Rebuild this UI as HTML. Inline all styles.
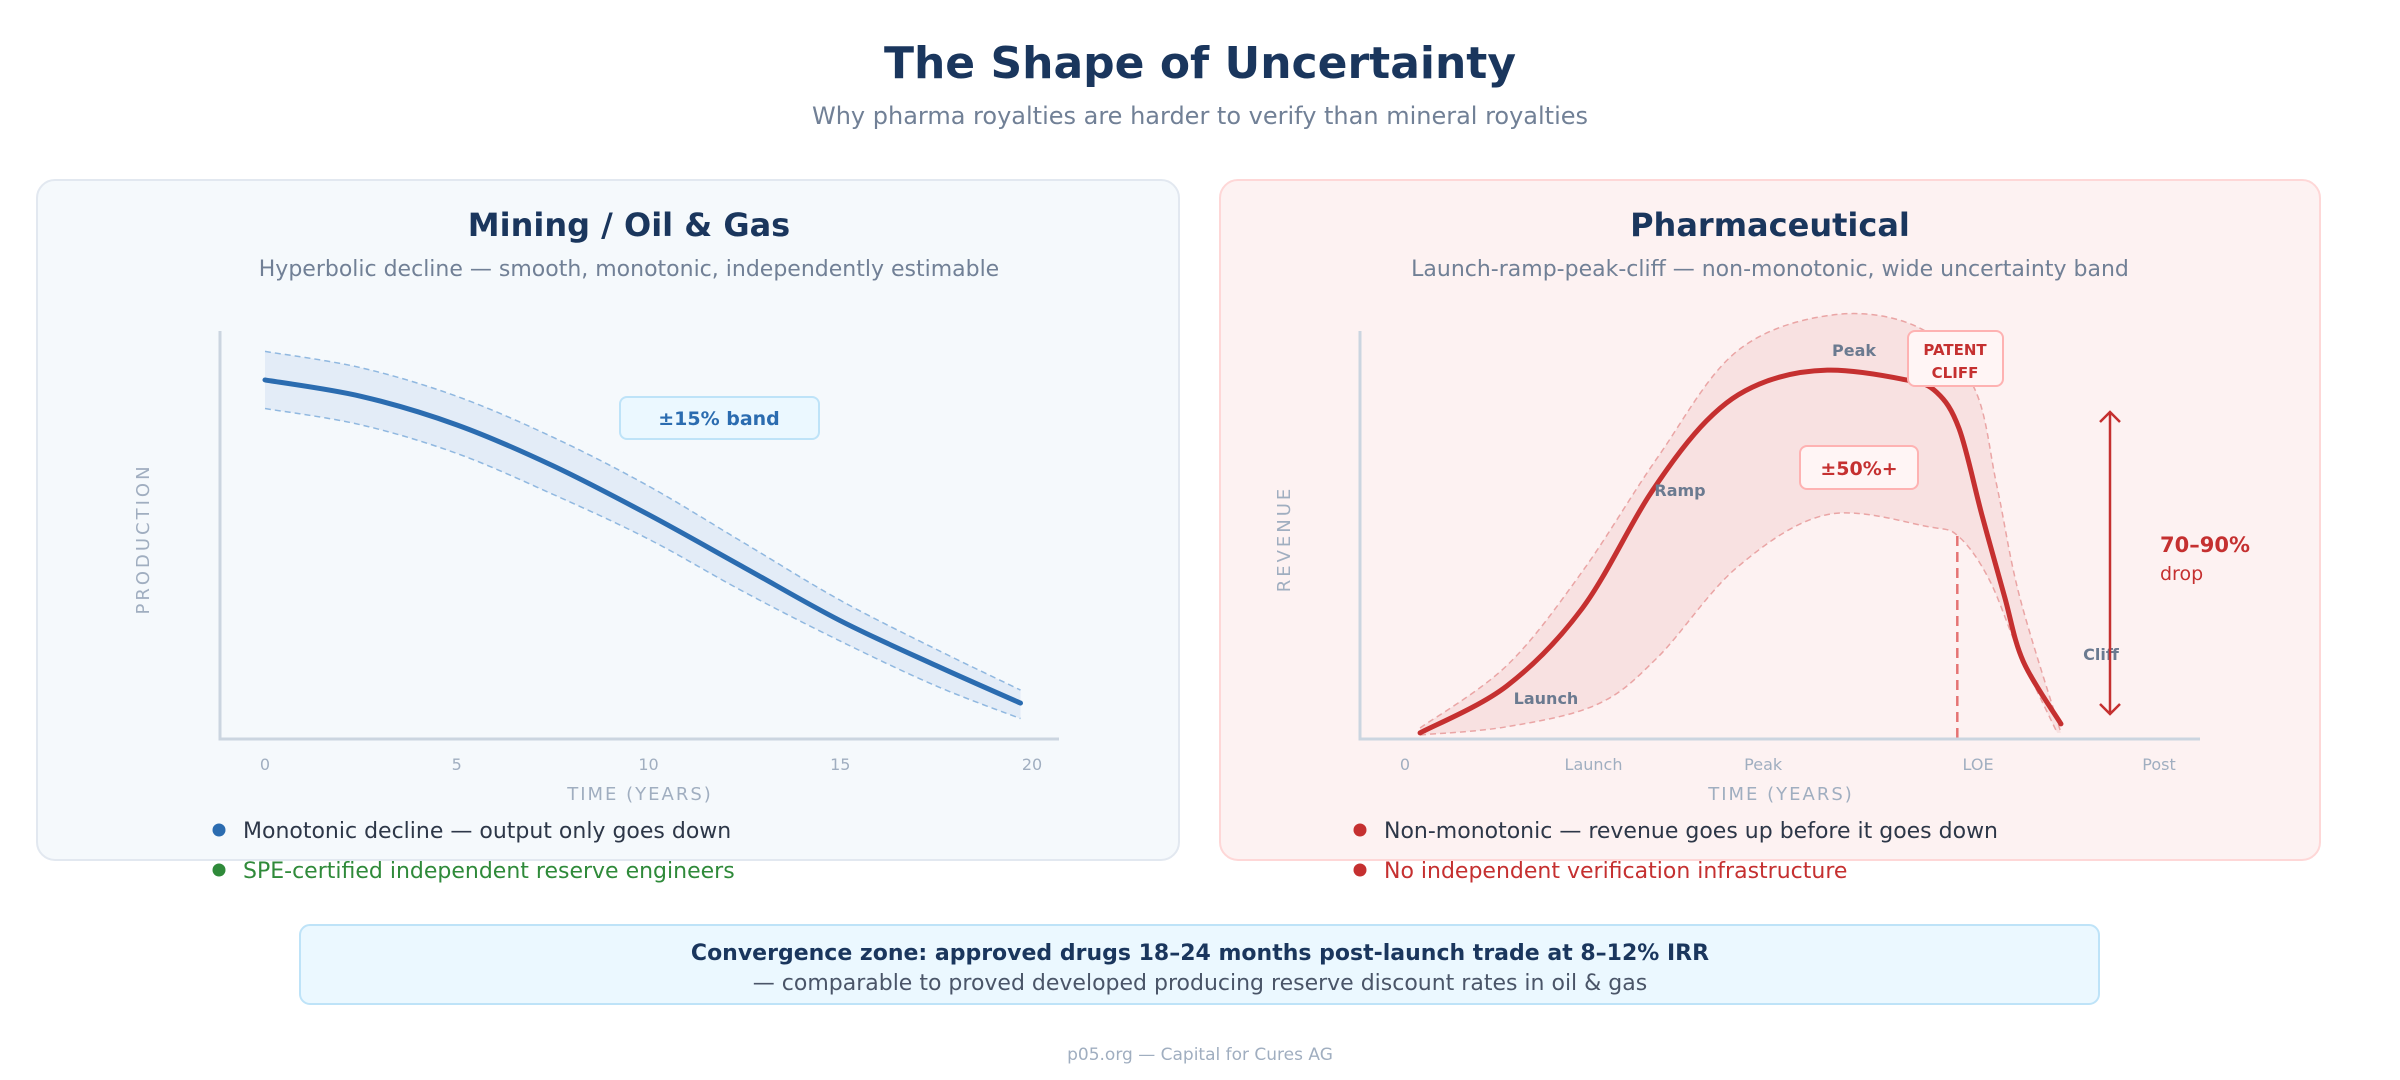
<!DOCTYPE html>
<html><head><meta charset="utf-8"><style>
html,body{margin:0;padding:0;background:#fff;}
svg{display:block;font-family:"DejaVu Sans","Liberation Sans",sans-serif;}
</style></head><body>
<svg id="chart" width="2400" height="1080" viewBox="0 0 2400 1080">
<text x="1200" y="78" text-anchor="middle" font-size="44" font-weight="bold" fill="#1a365d">The Shape of Uncertainty</text>
<text x="1200" y="124" text-anchor="middle" font-size="24" fill="#718096">Why pharma royalties are harder to verify than mineral royalties</text>

<rect x="37" y="180" width="1142" height="680" rx="18" fill="#f5f9fc" stroke="#e2e8f0" stroke-width="2"/>
<rect x="1220" y="180" width="1100" height="680" rx="18" fill="#fdf2f2" stroke="#fed7d7" stroke-width="2"/>

<text x="629" y="236" text-anchor="middle" font-size="32" font-weight="bold" fill="#1a365d">Mining / Oil &amp; Gas</text>
<text x="629" y="276" text-anchor="middle" font-size="22" fill="#718096">Hyperbolic decline — smooth, monotonic, independently estimable</text>
<text x="1770" y="236" text-anchor="middle" font-size="32" font-weight="bold" fill="#1a365d">Pharmaceutical</text>
<text x="1770" y="276" text-anchor="middle" font-size="22" fill="#718096">Launch-ramp-peak-cliff — non-monotonic, wide uncertainty band</text>

<g id="left"></g>
<g id="right"></g>

<circle cx="219" cy="830" r="6.5" fill="#2b6cb0"/>
<text x="243" y="838" font-size="22" fill="#2d3748">Monotonic decline — output only goes down</text>
<circle cx="219" cy="870" r="6.5" fill="#2f8a3a"/>
<text x="243" y="878" font-size="22" fill="#2f8a3a">SPE-certified independent reserve engineers</text>
<circle cx="1360" cy="830" r="6.5" fill="#c53030"/>
<text x="1384" y="838" font-size="22" fill="#2d3748">Non-monotonic — revenue goes up before it goes down</text>
<circle cx="1360" cy="870" r="6.5" fill="#c53030"/>
<text x="1384" y="878" font-size="22" fill="#c53030">No independent verification infrastructure</text>

<rect x="300" y="925" width="1799" height="79" rx="10" fill="#ebf8ff" stroke="#bee3f8" stroke-width="2"/>
<text x="1200" y="960" text-anchor="middle" font-size="22" font-weight="bold" fill="#1a365d">Convergence zone: approved drugs 18–24 months post-launch trade at 8–12% IRR</text>
<text x="1200" y="990" text-anchor="middle" font-size="22" fill="#4a5568">— comparable to proved developed producing reserve discount rates in oil &amp; gas</text>
<text x="1200" y="1060" text-anchor="middle" font-size="17" fill="#a0aec0">p05.org — Capital for Cures AG</text>
</svg>
<script>
// Left chart data
const mineYears = [0, 2.5, 5, 7.5, 10, 12.5, 15, 17.5, 19.7];
const mineProd = [88, 84, 77, 67, 55, 42, 29, 18, 8.8];
const mineUpper = [95, 91, 84, 74, 62, 48, 34, 22, 12];
const mineLower = [81, 77, 70, 60, 49, 36, 24, 13, 5];
const mineTicks = [0, 5, 10, 15, 20];
const mineTickLabels = ['0', '5', '10', '15', '20'];
// Right chart data
const pharmaT = [0.4, 2.7, 4.7, 6.5, 8.0, 9.4, 11.2, 13.3, 14.1, 14.7, 15.3, 15.9, 16.4, 17.4];
const pharmaRev = [1.5, 13, 32, 60, 78, 87, 90.4, 88, 85, 76, 55, 35, 19, 3.7];
const upperT = [0.4, 2.7, 4.7, 6.7, 8.8, 11.4, 13.7, 15.1, 15.7, 16.3, 17.4];
const upperRev = [2.7, 18, 41, 69, 95, 104, 100.5, 86, 62, 35, 1.5];
const lowerT = [0.4, 2.7, 5.1, 6.7, 8.8, 11.2, 13.9, 14.7, 15.5, 16.3, 17.3];
const lowerRev = [1, 3, 8.5, 20, 42, 55, 52, 49.5, 39, 21, 1.5];
const pharmaTicks = [0, 5, 9.5, 15.2, 20];
const pharmaTickLabels = ['0', 'Launch', 'Peak', 'LOE', 'Post'];
const loeT = 14.65;

const NS = 'http://www.w3.org/2000/svg';
function mk(parent, tag, attrs, text) {
  const e = document.createElementNS(NS, tag);
  for (const k in attrs) e.setAttribute(k, attrs[k]);
  if (text !== undefined) e.textContent = text;
  parent.appendChild(e);
  return e;
}
function smooth(pts) {
  let d = 'M' + pts[0][0] + ',' + pts[0][1];
  for (let i = 0; i < pts.length - 1; i++) {
    const p0 = pts[Math.max(i - 1, 0)], p1 = pts[i], p2 = pts[i + 1], p3 = pts[Math.min(i + 2, pts.length - 1)];
    const c1 = [p1[0] + (p2[0] - p0[0]) / 6, p1[1] + (p2[1] - p0[1]) / 6];
    const c2 = [p2[0] - (p3[0] - p1[0]) / 6, p2[1] - (p3[1] - p1[1]) / 6];
    d += ' C' + c1[0] + ',' + c1[1] + ' ' + c2[0] + ',' + c2[1] + ' ' + p2[0] + ',' + p2[1];
  }
  return d;
}
function rev(pts) { return pts.slice().reverse(); }
const yv = v => 739 - v * 4.08;

// LEFT
const L = document.getElementById('left');
const xl = t => 265 + t * 38.35;
const lu = mineYears.map((t, i) => [xl(t), yv(mineUpper[i])]);
const ll = mineYears.map((t, i) => [xl(t), yv(mineLower[i])]);
const lm = mineYears.map((t, i) => [xl(t), yv(mineProd[i])]);
let band = mk(L, 'path', { d: smooth(lu) + ' L' + smooth(rev(ll)).slice(1) + ' Z', fill: '#e3ecf7' });


let ub = mk(L, 'path', { d: smooth(lu), fill: 'none', stroke: '#90b8e0', 'stroke-width': 1.5, 'stroke-dasharray': '6 4' });


let lb = mk(L, 'path', { d: smooth(ll), fill: 'none', stroke: '#90b8e0', 'stroke-width': 1.5, 'stroke-dasharray': '6 4' });


let ml = mk(L, 'path', { d: smooth(lm), fill: 'none', stroke: '#2b6cb0', 'stroke-width': 5, 'stroke-linecap': 'round' });


let lax = mk(L, 'path', { d: 'M220,331 V739 H1059', fill: 'none', stroke: '#cbd5e0', 'stroke-width': 3 });


mineTicks.forEach((t, i) => {
  const e = mk(L, 'text', { x: xl(t), y: 770, 'text-anchor': 'middle', 'font-size': 16, fill: '#a0aec0' }, mineTickLabels[i]);
  
  
});
let lxt = mk(L, 'text', { x: 640, y: 800, 'text-anchor': 'middle', 'font-size': 18, fill: '#a0aec0', 'letter-spacing': 2 }, 'TIME (YEARS)');


let lyt = mk(L, 'text', { x: 0, y: 0, transform: 'translate(149,539) rotate(-90)', 'text-anchor': 'middle', 'font-size': 18, fill: '#a0aec0', 'letter-spacing': 3 }, 'PRODUCTION');


let bbox = mk(L, 'rect', { x: 620, y: 397, width: 199, height: 42, rx: 7, fill: '#ebf8ff', stroke: '#bee3f8', 'stroke-width': 2 });


let btx = mk(L, 'text', { x: 719, y: 425, 'text-anchor': 'middle', 'font-size': 19, 'font-weight': 'bold', fill: '#2b6cb0' }, '±15% band');



// RIGHT
const R = document.getElementById('right');
const xr = t => 1405 + t * 37.7;
const ru = upperT.map((t, i) => [xr(t), yv(upperRev[i])]);
const rl = lowerT.map((t, i) => [xr(t), yv(lowerRev[i])]);
const rm = pharmaT.map((t, i) => [xr(t), yv(pharmaRev[i])]);
let rband = mk(R, 'path', { d: smooth(ru) + ' L' + smooth(rev(rl)).slice(1) + ' Z', fill: '#f8e1e1' });


let rub = mk(R, 'path', { d: smooth(ru), fill: 'none', stroke: '#eaa5a5', 'stroke-width': 1.5, 'stroke-dasharray': '6 4' });


let rlb = mk(R, 'path', { d: smooth(rl), fill: 'none', stroke: '#eaa5a5', 'stroke-width': 1.5, 'stroke-dasharray': '6 4' });


let loe = mk(R, 'line', { x1: xr(loeT), y1: 536, x2: xr(loeT), y2: 739, stroke: '#e57373', 'stroke-width': 2.5, 'stroke-dasharray': '10 6' });


let rml = mk(R, 'path', { d: smooth(rm), fill: 'none', stroke: '#c53030', 'stroke-width': 5, 'stroke-linecap': 'round' });


let rax = mk(R, 'path', { d: 'M1360,331 V739 H2200', fill: 'none', stroke: '#cbd5e0', 'stroke-width': 3 });


pharmaTicks.forEach((t, i) => {
  const e = mk(R, 'text', { x: xr(t), y: 770, 'text-anchor': 'middle', 'font-size': 16, fill: '#a0aec0' }, pharmaTickLabels[i]);
  
  
});
let rxt = mk(R, 'text', { x: 1781, y: 800, 'text-anchor': 'middle', 'font-size': 18, fill: '#a0aec0', 'letter-spacing': 2 }, 'TIME (YEARS)');


let ryt = mk(R, 'text', { x: 0, y: 0, transform: 'translate(1290,539) rotate(-90)', 'text-anchor': 'middle', 'font-size': 18, fill: '#a0aec0', 'letter-spacing': 3 }, 'REVENUE');


const lbl = (x, y, s, n) => {
  const e = mk(R, 'text', { x: x, y: y, 'text-anchor': 'middle', 'font-size': 16, 'font-weight': 'bold', fill: '#6b7a90' }, s);
  
  
};
lbl(1546, 704, 'Launch', 'launch-label');
lbl(1680, 496, 'Ramp', 'ramp-label');
lbl(1854, 356, 'Peak', 'peak-label');
lbl(2101, 660, 'Cliff', 'cliff-label');
let pc = mk(R, 'rect', { x: 1908, y: 331, width: 95, height: 55, rx: 7, fill: '#fff5f5', stroke: '#feb2b2', 'stroke-width': 2 });


let pc1 = mk(R, 'text', { x: 1955, y: 355, 'text-anchor': 'middle', 'font-size': 15, 'font-weight': 'bold', fill: '#c53030' }, 'PATENT');


let pc2 = mk(R, 'text', { x: 1955, y: 378, 'text-anchor': 'middle', 'font-size': 15, 'font-weight': 'bold', fill: '#c53030' }, 'CLIFF');


let ub2 = mk(R, 'rect', { x: 1800, y: 446, width: 118, height: 43, rx: 7, fill: '#fff5f5', stroke: '#feb2b2', 'stroke-width': 2 });


let ut = mk(R, 'text', { x: 1859, y: 475, 'text-anchor': 'middle', 'font-size': 19, 'font-weight': 'bold', fill: '#c53030' }, '±50%+');


let ar = mk(R, 'path', { d: 'M2110,412 V714 M2100,422 L2110,412 L2120,422 M2100,704 L2110,714 L2120,704', fill: 'none', stroke: '#c53030', 'stroke-width': 2.5 });


let d1 = mk(R, 'text', { x: 2160, y: 552, 'font-size': 21, 'font-weight': 'bold', fill: '#c53030' }, '70–90%');


let d2 = mk(R, 'text', { x: 2160, y: 580, 'font-size': 19, fill: '#c53030' }, 'drop');


</script>
</body></html>
